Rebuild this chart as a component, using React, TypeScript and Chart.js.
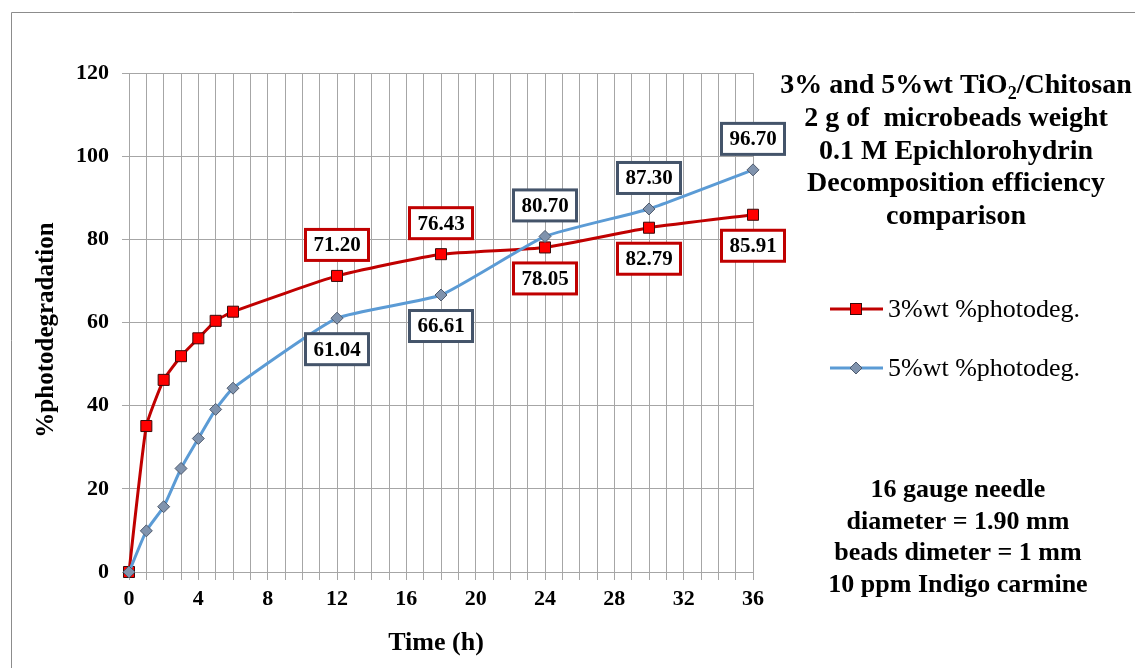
import React, { useEffect, useRef } from 'react';
import { Chart, registerables } from 'chart.js';

Chart.register(...registerables);

// ---------- data ----------
const timeHours = [0, 1, 2, 3, 4, 5, 6, 12, 18, 24, 30, 36];
const wt3Values = [0, 35.1, 46.2, 51.9, 56.2, 60.4, 62.6, 71.2, 76.43, 78.05, 82.79, 85.91];
const wt5Values = [0, 9.9, 15.7, 24.9, 32.1, 39.1, 44.2, 61.04, 66.61, 80.7, 87.3, 96.7];
const seriesNames = ['3%wt %photodeg.', '5%wt %photodeg.'];
const xTickLabels = [0, 4, 8, 12, 16, 20, 24, 28, 32, 36];
const yTickLabels = [0, 20, 40, 60, 80, 100, 120];
const labeledTimes = [12, 18, 24, 30, 36];
const wt3LabelSide = ['above', 'above', 'below', 'below', 'below'];
const wt5LabelSide = ['below', 'below', 'above', 'above', 'above'];
const xAxisTitle = 'Time (h)';
const yAxisTitle = '%photodegradation';
const titleLine1 = [
  { text: '3% and 5%wt TiO', sub: false },
  { text: '2', sub: true },
  { text: '/Chitosan', sub: false },
];
const titleOtherLines = ['2 g of  microbeads weight', '0.1 M Epichlorohydrin', 'Decomposition efficiency', 'comparison'];
const noteLines = ['16 gauge needle', 'diameter = 1.90 mm', 'beads dimeter = 1 mm', '10 ppm Indigo carmine'];

// ---------- styles ----------
const SERIF = '"Liberation Serif", "Times New Roman", serif';
const RED_LINE = '#C00000';
const RED_FILL = '#FF0000';
const BLUE_LINE = '#5B9BD5';
const BLUE_FILL = '#8093AD';
const BLUE_BORDER = '#4F5B6E';
const BOX_BLUE = '#44546A';
const GRID = '#A6A6A6';

function drawSquare(ctx: CanvasRenderingContext2D, x: number, y: number) {
  ctx.save();
  ctx.fillStyle = RED_FILL;
  ctx.strokeStyle = '#3A0A0A';
  ctx.lineWidth = 1;
  ctx.fillRect(x - 5.5, y - 5.5, 11, 11);
  ctx.strokeRect(x - 5.5, y - 5.5, 11, 11);
  ctx.restore();
}
function drawDiamond(ctx: CanvasRenderingContext2D, x: number, y: number) {
  ctx.save();
  ctx.fillStyle = BLUE_FILL;
  ctx.strokeStyle = BLUE_BORDER;
  ctx.lineWidth = 1;
  ctx.beginPath();
  ctx.moveTo(x, y - 6);
  ctx.lineTo(x + 6, y);
  ctx.lineTo(x, y + 6);
  ctx.lineTo(x - 6, y);
  ctx.closePath();
  ctx.fill();
  ctx.stroke();
  ctx.restore();
}

const decorPlugin = {
  id: 'decor',
  beforeDraw(chart: any) {
    const ctx = chart.ctx as CanvasRenderingContext2D;
    ctx.save();
    ctx.fillStyle = '#FFFFFF';
    ctx.fillRect(0, 0, chart.width, chart.height);
    ctx.strokeStyle = '#8C8C8C';
    ctx.lineWidth = 1;
    ctx.beginPath();
    ctx.moveTo(11.5, chart.height + 2);
    ctx.lineTo(11.5, 12.5);
    ctx.lineTo(chart.width + 2, 12.5);
    ctx.stroke();
    ctx.restore();
  },
  afterDatasetsDraw(chart: any) {
    const ctx = chart.ctx as CanvasRenderingContext2D;
    const xs = chart.scales.x;
    const ys = chart.scales.y;
    const drawBox = (t: number, v: number, side: string, color: string) => {
      const px = xs.getPixelForValue(t);
      const py = ys.getPixelForValue(v);
      const cy = side === 'above' ? py - 31 : py + 31;
      const w = 63;
      const h = 31;
      ctx.save();
      ctx.fillStyle = '#FFFFFF';
      ctx.fillRect(px - w / 2, cy - h / 2, w, h);
      ctx.strokeStyle = color;
      ctx.lineWidth = 3;
      ctx.strokeRect(px - w / 2, cy - h / 2, w, h);
      ctx.fillStyle = '#000000';
      ctx.font = `bold 21px ${SERIF}`;
      ctx.textAlign = 'center';
      ctx.textBaseline = 'middle';
      ctx.fillText(v.toFixed(2), px, cy + 1);
      ctx.restore();
    };
    labeledTimes.forEach((t, i) => {
      const idx = timeHours.indexOf(t);
      drawBox(t, wt3Values[idx], wt3LabelSide[i], RED_LINE);
      drawBox(t, wt5Values[idx], wt5LabelSide[i], BOX_BLUE);
    });
  },
  afterDraw(chart: any) {
    const ctx = chart.ctx as CanvasRenderingContext2D;
    const area = chart.chartArea;
    ctx.save();
    ctx.fillStyle = '#000000';
    // axis titles
    ctx.font = `bold 26px ${SERIF}`;
    ctx.textAlign = 'center';
    ctx.textBaseline = 'alphabetic';
    ctx.fillText(xAxisTitle, (area.left + area.right) / 2 - 5, 650);
    ctx.save();
    ctx.translate(53, 330);
    ctx.rotate(-Math.PI / 2);
    ctx.font = `bold 25px ${SERIF}`;
    ctx.fillText(yAxisTitle, 0, 0);
    ctx.restore();

    // right-side title
    const cx = 956;
    const mainFont = `bold 28px ${SERIF}`;
    const subFont = `bold 18px ${SERIF}`;
    let total = 0;
    titleLine1.forEach((seg) => {
      ctx.font = seg.sub ? subFont : mainFont;
      total += ctx.measureText(seg.text).width;
    });
    let x = cx - total / 2;
    ctx.textAlign = 'left';
    titleLine1.forEach((seg) => {
      ctx.font = seg.sub ? subFont : mainFont;
      ctx.fillText(seg.text, x, seg.sub ? 99 : 93);
      x += ctx.measureText(seg.text).width;
    });
    ctx.textAlign = 'center';
    ctx.font = mainFont;
    titleOtherLines.forEach((line, i) => {
      ctx.fillText(line, cx, 126 + i * 32.5);
    });

    // legend
    const legendY = [309, 368];
    seriesNames.forEach((name, i) => {
      const y = legendY[i];
      ctx.save();
      ctx.strokeStyle = i === 0 ? RED_LINE : BLUE_LINE;
      ctx.lineWidth = 3;
      ctx.beginPath();
      ctx.moveTo(830, y);
      ctx.lineTo(883, y);
      ctx.stroke();
      ctx.restore();
      if (i === 0) drawSquare(ctx, 856, y);
      else drawDiamond(ctx, 856, y);
      ctx.font = `26px ${SERIF}`;
      ctx.textAlign = 'left';
      ctx.textBaseline = 'middle';
      ctx.fillStyle = '#000000';
      ctx.fillText(name, 888, y + 1);
    });

    // notes
    ctx.textAlign = 'center';
    ctx.textBaseline = 'alphabetic';
    ctx.font = `bold 26px ${SERIF}`;
    noteLines.forEach((line, i) => {
      ctx.fillText(line, 958, 497 + i * 31.5);
    });
    ctx.restore();
  },
};

export default function App() {
  const canvasRef = useRef<HTMLCanvasElement | null>(null);

  useEffect(() => {
    const canvas = canvasRef.current;
    if (!canvas) return;
    const chart = new Chart(canvas, {
      type: 'line',
      data: {
        datasets: [
          {
            label: seriesNames[0],
            data: timeHours.map((t, i) => ({ x: t, y: wt3Values[i] })),
            borderColor: RED_LINE,
            borderWidth: 3,
            backgroundColor: RED_FILL,
            pointStyle: 'rect',
            pointRadius: 7.8,
            pointBorderColor: '#3A0A0A',
            pointBorderWidth: 1,
            pointBackgroundColor: RED_FILL,
            tension: 0.15,
            clip: false,
            order: 1,
          },
          {
            label: seriesNames[1],
            data: timeHours.map((t, i) => ({ x: t, y: wt5Values[i] })),
            borderColor: BLUE_LINE,
            borderWidth: 3,
            backgroundColor: BLUE_FILL,
            pointStyle: 'rectRot',
            pointRadius: 6,
            pointBorderColor: BLUE_BORDER,
            pointBorderWidth: 1,
            pointBackgroundColor: BLUE_FILL,
            tension: 0.15,
            clip: false,
            order: 0,
          },
        ],
      },
      options: {
        responsive: false,
        animation: false,
        events: [],
        layout: { padding: { left: 0, right: 382, top: 73, bottom: 0 } },
        plugins: {
          legend: { display: false },
          tooltip: { enabled: false },
          title: { display: false },
        },
        scales: {
          x: {
            type: 'linear',
            min: 0,
            max: 36,
            ticks: {
              stepSize: 1,
              autoSkip: false,
              maxRotation: 0,
              minRotation: 0,
              color: '#000000',
              font: { family: SERIF, size: 22, weight: 'bold' },
              padding: 6,
              callback: (v: any) => (xTickLabels.includes(Number(v)) ? String(v) : ''),
            },
            grid: { color: GRID, lineWidth: 1, tickLength: 8, drawTicks: true },
            border: { color: GRID, width: 1 },
            afterFit: (s: any) => {
              s.height = 96;
            },
          },
          y: {
            type: 'linear',
            min: 0,
            max: 120,
            ticks: {
              stepSize: 20,
              color: '#000000',
              font: { family: SERIF, size: 22, weight: 'bold' },
              padding: 13,
              callback: (v: any) => (yTickLabels.includes(Number(v)) ? String(v) : ''),
            },
            grid: { color: GRID, lineWidth: 1, tickLength: 7, drawTicks: true },
            border: { color: GRID, width: 1 },
            afterFit: (s: any) => {
              s.width = 129;
            },
          },
        },
      },
      plugins: [decorPlugin],
    } as any);
    return () => chart.destroy();
  }, []);

  return (
    <div style={{ position: 'absolute', left: 0, top: 0, width: 1135, height: 668, background: '#fff' }}>
      <canvas ref={canvasRef} width={1135} height={668} style={{ display: 'block' }} />
    </div>
  );
}
